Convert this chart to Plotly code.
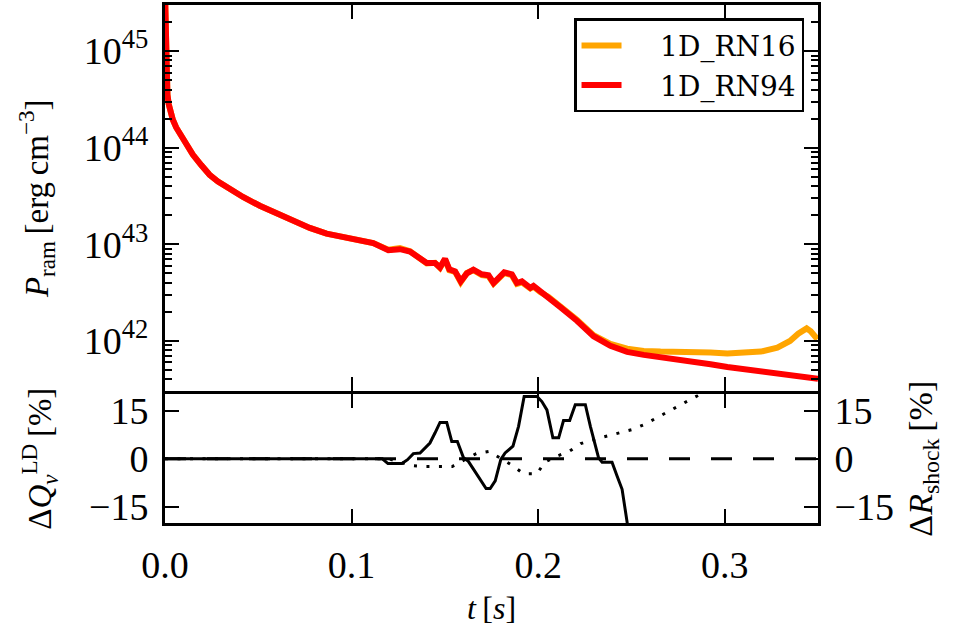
import math
import plotly.graph_objects as go

# Ram pressure of the two runs: time [s] and P_ram in units of 1e42 erg cm^-3
t_rn94 = [0.0, 0.0004, 0.0008, 0.0013, 0.0020, 0.0030, 0.0042, 0.0060, 0.0105, 0.0149,
          0.0194, 0.0239, 0.0284, 0.0329, 0.0418, 0.0508, 0.0597, 0.0686, 0.0776, 0.0866,
          0.0955, 0.1045, 0.1116, 0.1197, 0.1259, 0.1313, 0.1403, 0.1447, 0.1474, 0.1501,
          0.1524, 0.1555, 0.1585, 0.1618, 0.1653, 0.1698, 0.1734, 0.1761, 0.1787, 0.1818,
          0.1859, 0.1886, 0.1913, 0.1958, 0.1975, 0.2011, 0.2056, 0.2119, 0.2208, 0.2297,
          0.2387, 0.2477, 0.2566, 0.2656, 0.2745, 0.2835, 0.2924, 0.3014, 0.3103, 0.3193,
          0.3282, 0.3372, 0.3479, 0.3500]
p_rn94 = [3981, 1000, 562, 355, 282, 229, 195, 162, 115, 85.1,
          66.1, 52.5, 44.7, 39.4, 30.9, 25.1, 20.9, 17.4, 14.8, 12.9,
          12.0, 11.0, 10.3, 8.71, 8.91, 8.43, 6.40, 6.40, 5.75, 7.08,
          5.50, 5.25, 4.14, 5.01, 5.46, 4.90, 4.79, 3.98, 4.47, 5.13,
          4.90, 3.98, 4.14, 3.55, 3.72, 3.24, 2.82, 2.24, 1.62, 1.12,
          0.891, 0.771, 0.718, 0.684, 0.646, 0.612, 0.575, 0.537, 0.511, 0.483,
          0.457, 0.437, 0.412, 0.407]

t_rn16 = [0.0, 0.0004, 0.0008, 0.0013, 0.0020, 0.0030, 0.0042, 0.0060, 0.0105, 0.0149,
          0.0194, 0.0239, 0.0284, 0.0329, 0.0418, 0.0508, 0.0597, 0.0686, 0.0776, 0.0866,
          0.0955, 0.1045, 0.1116, 0.1197, 0.1259, 0.1313, 0.1403, 0.1447, 0.1474, 0.1501,
          0.1524, 0.1555, 0.1585, 0.1618, 0.1653, 0.1698, 0.1734, 0.1761, 0.1787, 0.1818,
          0.1859, 0.1886, 0.1913, 0.1958, 0.1975, 0.2011, 0.2056, 0.2119, 0.2208, 0.2297,
          0.2387, 0.2477, 0.2566, 0.2656, 0.2745, 0.2835, 0.2924, 0.3014, 0.3103, 0.3193,
          0.3282, 0.3350, 0.3394, 0.3439, 0.3461, 0.3497]
p_rn16 = [3981, 1000, 562, 355, 282, 229, 195, 162, 115, 85.1,
          66.1, 52.5, 44.7, 39.4, 30.9, 25.1, 20.9, 17.4, 14.8, 12.9,
          12.0, 11.0, 10.3, 8.80, 9.15, 8.50, 6.35, 6.45, 5.70, 7.00,
          5.40, 5.20, 4.05, 5.05, 5.40, 4.80, 4.70, 3.92, 4.40, 5.05,
          4.80, 3.90, 4.05, 3.50, 3.65, 3.20, 2.85, 2.30, 1.66, 1.15,
          0.933, 0.832, 0.789, 0.776, 0.776, 0.769, 0.759, 0.741, 0.752, 0.776,
          0.851, 1.00, 1.19, 1.35, 1.26, 1.04]

# Relative differences between the runs [%]
t_dq = [0.0, 0.1165, 0.1195, 0.1270, 0.1300, 0.1331, 0.1367, 0.1420, 0.1447, 0.1474,
        0.1510, 0.1537, 0.1567, 0.1600, 0.1626, 0.1721, 0.1743, 0.1770, 0.1800, 0.1823,
        0.1865, 0.1895, 0.1925, 0.1994, 0.2020, 0.2047, 0.2079, 0.2110, 0.2136, 0.2169,
        0.2199, 0.2253, 0.2280, 0.2324, 0.2343, 0.2396, 0.2423, 0.2450, 0.2477, 0.2490]
dq_ld = [0.0, 0.0, -1.5, -1.5, -0.3, 1.6, 1.8, 4.9, 8.0, 11.3,
         11.3, 5.4, 5.4, 0.3, -0.8, -9.3, -9.3, -6.9, -0.2, 1.8,
         3.9, 10.1, 19.4, 19.4, 17.8, 15.2, 6.5, 6.5, 11.9, 11.9,
         16.8, 16.8, 10.1, 0.3, -1.1, -1.1, -5.4, -9.5, -19.8, -26.0]

t_dr = [0.0, 0.1200, 0.1317, 0.1390, 0.1540, 0.1600, 0.1668, 0.1736, 0.1800, 0.1863,
        0.1922, 0.1994, 0.2034, 0.2100, 0.2167, 0.2228, 0.2300, 0.2366, 0.2432, 0.2504,
        0.2571, 0.2636, 0.2700, 0.2765, 0.2831, 0.2900, 0.3500]
dr_shock = [0.0, 0.0, -2.1, -2.4, -2.4, -0.5, 1.6, 2.3, 0.0, -2.1,
            -4.7, -4.7, -1.1, 0.8, 2.3, 4.7, 6.0, 7.0, 8.0, 9.1,
            10.7, 12.8, 15.0, 17.1, 19.3, 21.6, 40.0]

t_ref = [0.0, 0.35]
ref_zero = [0.0, 0.0]

p_ticks = [1e42, 1e43, 1e44, 1e45]
p_ticktext = ["10<sup>42</sup>", "10<sup>43</sup>", "10<sup>44</sup>", "10<sup>45</sup>"]
t_ticks = [0.0, 0.1, 0.2, 0.3]
t_ticktext = ["0.0", "0.1", "0.2", "0.3"]
d_ticks = [-15, 0, 15]
d_ticktext = ["\u221215", "0", "15"]

E42 = 1e42
minor_p = [k * 10.0 ** n for n in range(41, 46) for k in range(2, 10)
           if 3e41 <= k * 10.0 ** n <= 3e45]

fig = go.Figure()
fig.add_trace(go.Scatter(x=t_rn16, y=[v * E42 for v in p_rn16], mode="lines",
                         name="\u2003\u20091D_RN16", line=dict(color="#FFA500", width=6),
                         xaxis="x", yaxis="y"))
fig.add_trace(go.Scatter(x=t_rn94, y=[v * E42 for v in p_rn94], mode="lines",
                         name="\u2003\u20091D_RN94", line=dict(color="#FF0000", width=6),
                         xaxis="x", yaxis="y"))
fig.add_trace(go.Scatter(x=t_dq, y=dq_ld, mode="lines", showlegend=False,
                         line=dict(color="black", width=3), xaxis="x2", yaxis="y2"))
fig.add_trace(go.Scatter(x=t_ref, y=ref_zero, mode="lines", showlegend=False,
                         line=dict(color="black", width=3, dash="21px,21px"),
                         xaxis="x2", yaxis="y2"))
fig.add_trace(go.Scatter(x=t_dr, y=dr_shock, mode="lines", showlegend=False,
                         line=dict(color="black", width=3, dash="3px,9.5px"),
                         xaxis="x2", yaxis="y3"))

ax = dict(showline=True, linecolor="black", linewidth=3, ticks="inside",
          tickcolor="black", tickwidth=2, ticklen=14, showgrid=False,
          zeroline=False, automargin=False,
          tickfont=dict(family="Liberation Serif", size=38))

fig.update_layout(
    width=967, height=626,
    margin=dict(l=165, r=149, t=5, b=103),
    paper_bgcolor="white", plot_bgcolor="white",
    font=dict(family="Liberation Serif", size=32, color="black"),
    xaxis=dict(**ax, range=[0, 0.35], domain=[0, 1], anchor="y", mirror="ticks",
               tickvals=t_ticks, showticklabels=False),
    yaxis=dict(**ax, type="log", range=[math.log10(3e41), math.log10(3e45)],
               domain=[0.2539, 1], anchor="x", mirror="ticks",
               tickvals=p_ticks, ticktext=p_ticktext, ticklabelstandoff=6,
               minor=dict(tickvals=minor_p, ticks="inside", ticklen=7,
                          tickwidth=2, tickcolor="black"),
               title=dict(text="<i>P</i><sub>ram</sub>\u2009[erg\u2009cm<sup>\u22123</sup>]",
                          standoff=26, font=dict(size=33))),
    xaxis2=dict(**ax, range=[0, 0.35], domain=[0, 1], anchor="y2", mirror="ticks",
                tickvals=t_ticks, ticktext=t_ticktext, ticklabelstandoff=6,
                title=dict(text="<i>t</i>\u2009[<i>s</i>]", standoff=20,
                           font=dict(size=32))),
    yaxis2=dict(**ax, range=[-20, 20], domain=[0, 0.2481], anchor="x2", mirror=True,
                tickvals=d_ticks, ticktext=d_ticktext, ticklabelstandoff=6,
                title=dict(text="\u0394<i>Q</i><sub><i>\u03bd</i></sub><sup>LD</sup>\u2009[%]",
                           standoff=28, font=dict(size=33))),
    yaxis3=dict(**ax, range=[-20, 20], overlaying="y2", side="right", anchor="x2",
                tickvals=d_ticks, ticktext=d_ticktext, ticklabelstandoff=6,
                title=dict(text="\u0394<i>R</i><sub>shock</sub>\u2009[%]", standoff=16,
                           font=dict(size=34))),
    legend=dict(x=0.9786, xanchor="right", y=0.9743, yanchor="top",
                bgcolor="white", bordercolor="black", borderwidth=2.5,
                font=dict(family="DejaVu Serif", size=28), itemwidth=40),
)

fig.write_html("out.html")
